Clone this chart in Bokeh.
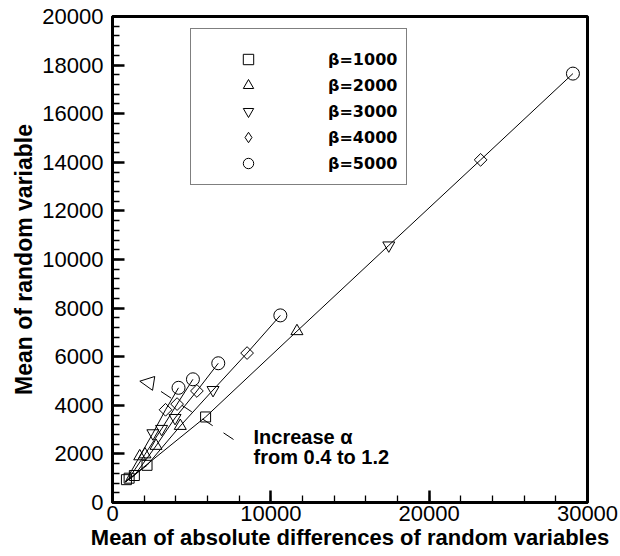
import math
from bokeh.plotting import figure
from bokeh.models import (Range1d, SingleIntervalTicker, Legend, LegendItem, Arrow,
                          NormalHead, Label, NumeralTickFormatter)
from bokeh.embed import file_html
from bokeh.resources import INLINE

# ---- data ----
beta_labels = ["β=1000", "β=2000", "β=3000", "β=4000", "β=5000"]
alpha_values = [0.4, 0.6, 0.8, 1.0, 1.2]

# common starting point of all alpha curves
origin_x = 820
origin_y = 850

# one curve per alpha, points ordered by beta = 1000..5000
x_a04 = [5880, 11650, 17450, 23250, 29080]
y_a04 = [3520, 7050, 10580, 14100, 17650]
x_a06 = [2180, 4280, 6350, 8500, 10600]
y_a06 = [1530, 3150, 4630, 6150, 7700]
x_a08 = [1380, 2750, 3950, 5330, 6680]
y_a08 = [1110, 2330, 3480, 4590, 5730]
x_a10 = [1050, 2050, 3100, 4080, 5080]
y_a10 = [1000, 1980, 3030, 4050, 5070]
x_a12 = [880, 1720, 2550, 3350, 4170]
y_a12 = [940, 1900, 2850, 3815, 4720]

curves_x = [x_a04, x_a06, x_a08, x_a10, x_a12]
curves_y = [y_a04, y_a06, y_a08, y_a10, y_a12]

# annotation (data coordinates)
ARROW_TAIL = (7644, 2593)
ARROW_BASE = (2780, 4691)
HEAD_FROM = (3032, 4856)
ARROW_TIP = (1725, 4992)
NOTE_X = 8907
NOTE_Y1 = 2675
NOTE_Y2 = 1852

# ---- figure ----
p = figure(width=620, height=556, output_backend="svg", toolbar_location=None,
           x_range=Range1d(0, 30000), y_range=Range1d(0, 20000),
           min_border_left=112, min_border_right=33, min_border_top=16,
           min_border_bottom=54)
p.grid.visible = False
p.background_fill_color = "white"
p.border_fill_color = "white"
p.outline_line_color = "black"
p.outline_line_width = 3
p.outline_line_alpha = 1

p.xaxis.ticker = SingleIntervalTicker(interval=10000, num_minor_ticks=5)
p.yaxis.ticker = SingleIntervalTicker(interval=2000, num_minor_ticks=5)
for ax in (p.xaxis, p.yaxis):
    ax.formatter = NumeralTickFormatter(format="0")
    ax.axis_line_width = 3
    ax.axis_line_color = "black"
    ax.major_tick_in = 12
    ax.major_tick_out = 0
    ax.minor_tick_in = 7
    ax.minor_tick_out = 0
    ax.major_tick_line_width = 2.5
    ax.minor_tick_line_width = 1.3
    ax.major_tick_line_color = "black"
    ax.minor_tick_line_color = "black"
    ax.major_label_text_font = "Liberation Sans"
    ax.major_label_text_font_size = "22px"
    ax.major_label_text_color = "black"
    ax.axis_label_text_font = "Liberation Sans"
    ax.axis_label_text_font_style = "bold"
    ax.axis_label_text_color = "black"
p.xaxis.axis_label_text_font_size = "22px"
p.yaxis.axis_label_text_font_size = "23px"
p.xaxis.major_label_standoff = 3
p.xaxis.axis_label_standoff = 1
p.yaxis.major_label_standoff = 9
p.yaxis.axis_label_standoff = 2
p.xaxis.axis_label = "Mean of absolute differences of random variables"
p.yaxis.axis_label = "Mean of random variable"

# curves
for cx, cy in zip(curves_x, curves_y):
    p.line([origin_x] + cx, [origin_y] + cy, line_color="black", line_width=1)

# markers per beta
marker_specs = [
    dict(marker="square", size=10, angle=0),
    dict(marker="triangle", size=12, angle=0),
    dict(marker="inverted_triangle", size=12, angle=0),
    dict(marker="square", size=9, angle=math.pi / 4),
    dict(marker="circle", size=13, angle=0),
]
renderers = []
for i, spec in enumerate(marker_specs):
    xs = [cx[i] for cx in curves_x]
    ys = [cy[i] for cy in curves_y]
    r = p.scatter(xs, ys, marker=spec["marker"], size=spec["size"], angle=spec["angle"],
                  fill_color=None, line_color="black", line_width=1)
    renderers.append(r)

# legend-only diamond glyph (no visible data point)
diamond_legend = p.scatter([float("nan")], [float("nan")], marker="diamond", size=12,
                           fill_color=None, line_color="black", line_width=1)
legend_renderers = [renderers[0], renderers[1], renderers[2], diamond_legend, renderers[4]]

legend = Legend(items=[LegendItem(label=lab, renderers=[r])
                       for lab, r in zip(beta_labels, legend_renderers)],
                location=(78, 317), margin=0, padding=8, spacing=0,
                glyph_width=98, glyph_height=26, label_height=26, label_width=70,
                label_standoff=31,
                label_text_font="DejaVu Sans", label_text_font_style="bold",
                label_text_font_size="16px", label_text_color="black",
                border_line_color="black", border_line_width=1,
                background_fill_color="white", background_fill_alpha=1,
                title=" ", title_text_font_size="8px", title_standoff=0)
p.add_layout(legend)

# annotation: dashed arrow body and an open-looking head
p.add_layout(Arrow(x_start=ARROW_TAIL[0], y_start=ARROW_TAIL[1],
                   x_end=ARROW_BASE[0], y_end=ARROW_BASE[1],
                   line_color="black", line_width=1, line_dash="12 13", end=None))
p.add_layout(Arrow(x_start=HEAD_FROM[0], y_start=HEAD_FROM[1],
                   x_end=ARROW_TIP[0], y_end=ARROW_TIP[1],
                   line_color=None,
                   end=NormalHead(size=14, fill_color="white", line_color="black",
                                  line_width=1)))
for ty, txt in ((NOTE_Y1, "Increase α"), (NOTE_Y2, "from 0.4 to 1.2")):
    p.add_layout(Label(x=NOTE_X, y=ty, text=txt, text_font="Liberation Sans",
                       text_font_style="bold", text_font_size="20px",
                       text_baseline="middle", text_align="left", text_color="black"))

open("out.html", "w").write(file_html(p, INLINE))
